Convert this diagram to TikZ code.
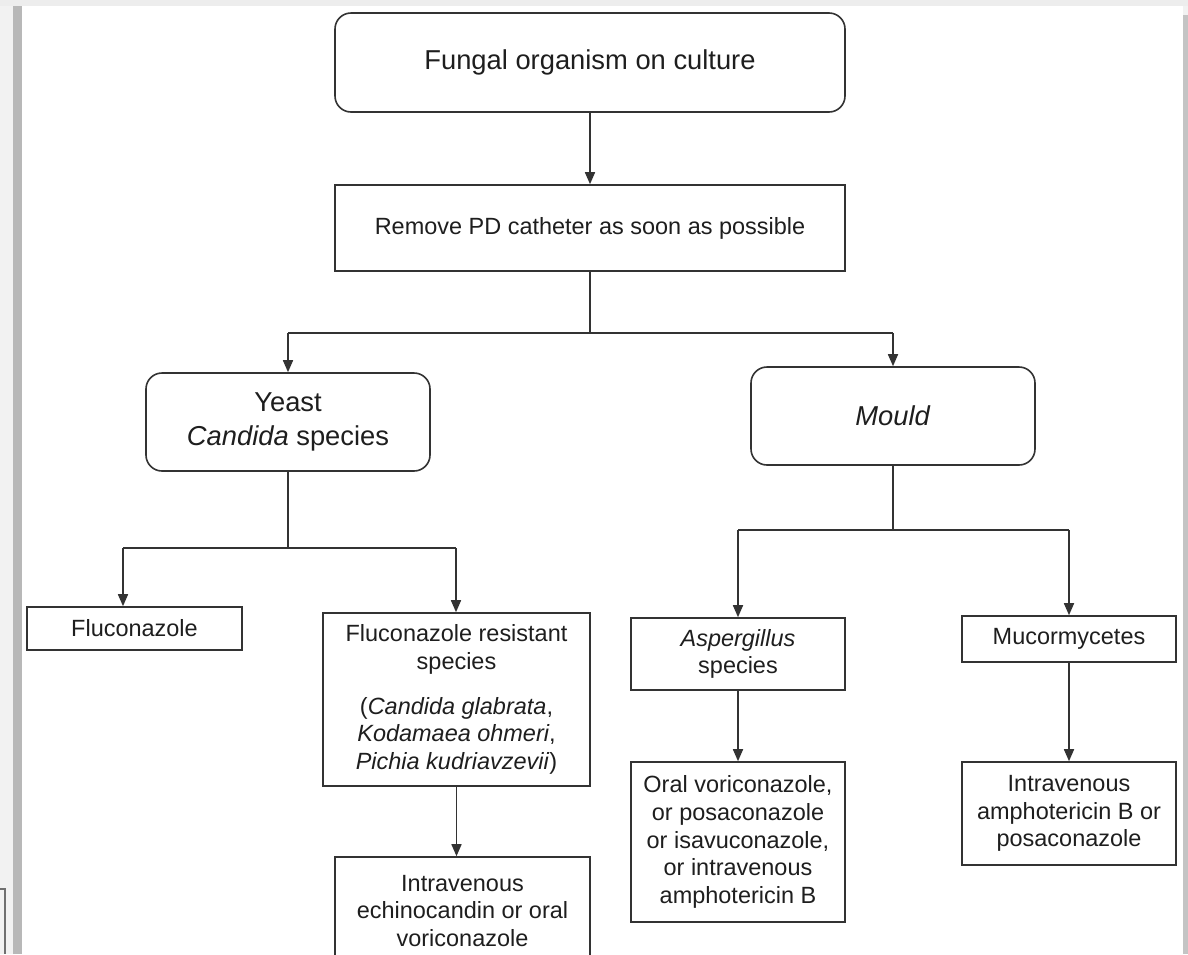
\documentclass[tikz,border=0pt]{standalone}
\usepackage{fontspec}
\setmainfont{Liberation Sans}
\usetikzlibrary{arrows.meta}
\definecolor{ink}{HTML}{1E1E1E}
\definecolor{edge}{HTML}{333333}
\definecolor{paneltop}{HTML}{EDEDED}
\definecolor{panelside}{HTML}{F2F2F2}
\definecolor{panelbar}{HTML}{B8B8B8}
\definecolor{panelright}{HTML}{C4C4C4}
\begin{document}
\begin{tikzpicture}[x=0.75pt,y=-0.75pt,
  box/.style={draw=edge, line width=1.2pt, rectangle, align=center, text=ink, inner sep=2pt},
  roundbox/.style={box, rounded corners=12pt},
  bigtext/.style={font=\fontsize{20.5}{26}\selectfont},
  smalltext/.style={font=\fontsize{17.6}{20.8}\selectfont},
  link/.style={draw=edge, line width=1.2pt},
  arr/.style={link, -{Triangle[length=9pt,width=7.5pt]}}]
\useasboundingbox (0,0) rectangle (1188,954);
\clip (0,0) rectangle (1188,954);

% page surround
\fill[panelside] (0,0) rectangle (1188,954);
\fill[white] (22,6) rectangle (1183,954);
\fill[paneltop] (0,0) rectangle (1188,6);
\fill[panelbar] (13,6) rectangle (22,954);
\fill[panelright] (1183,15) rectangle (1188,954);
\draw[edge!70, line width=0.8pt] (0,889) -- (5,889) -- (5,954);

% boxes
\node[roundbox, bigtext, minimum width=382.5pt, minimum height=74.25pt] (culture) at (590,62.5) {Fungal organism on culture};
\node[box, smalltext, minimum width=382.5pt, minimum height=64.5pt] (remove) at (590,228) {Remove PD catheter as soon as possible};
\node[roundbox, bigtext, minimum width=213pt, minimum height=73.5pt] (yeast) at (288,422) {Yeast\\\textit{Candida} species};
\node[roundbox, bigtext, minimum width=213pt, minimum height=73.5pt] (mould) at (893,416) {\textit{Mould}};

\node[box, smalltext, minimum width=161.25pt, minimum height=32.25pt] (fluc) at (134.5,628.5) {Fluconazole};
\node[box, smalltext, minimum width=200.25pt, minimum height=129.75pt] (resist) at (456.5,699.5)
  {Fluconazole resistant\\ species\\[13pt] (\textit{Candida glabrata},\\ \textit{Kodamaea ohmeri},\\ \textit{Pichia kudriavzevii})};
\node[box, smalltext, minimum width=191.25pt, minimum height=81pt] (echino) at (462.5,911)
  {Intravenous\\ echinocandin or oral\\ voriconazole};

\node[box, smalltext, minimum width=160.5pt, minimum height=54pt] (asp) at (738,654) {\textit{Aspergillus}\\ species};
\node[box, smalltext, minimum width=160.5pt, minimum height=120pt] (oral) at (738,842)
  {Oral voriconazole,\\ or posaconazole\\ or isavuconazole,\\ or intravenous\\ amphotericin B};
\node[box, smalltext, minimum width=160.5pt, minimum height=34.5pt] (muc) at (1069,639) {Mucormycetes};
\node[box, smalltext, minimum width=160.5pt, minimum height=77.25pt] (iv) at (1069,813.5)
  {Intravenous\\ amphotericin B or\\ posaconazole};

% connectors
\draw[arr] (culture.south) -- (remove.north);

\coordinate (mainL) at (288,333);
\coordinate (mainR) at (893,333);
\draw[link] (remove.south) -- (remove.south |- mainL);
\draw[link] (mainL) -- (mainR);
\draw[arr] (mainL) -- (yeast.north);
\draw[arr] (mainR) -- (mould.north);

\coordinate (yeastL) at (123,548);
\coordinate (yeastR) at (456,548);
\draw[link] (yeast.south) -- (yeast.south |- yeastL);
\draw[link] (yeastL) -- (yeastR);
\draw[arr] (yeastL) -- (yeastL |- fluc.north);
\draw[arr] (yeastR) -- (yeastR |- resist.north);
\draw[arr] (resist.south) -- (resist.south |- echino.north);

\coordinate (mouldL) at (738,530);
\coordinate (mouldR) at (1069,530);
\draw[link] (mould.south) -- (mould.south |- mouldL);
\draw[link] (mouldL) -- (mouldR);
\draw[arr] (mouldL) -- (asp.north);
\draw[arr] (mouldR) -- (muc.north);
\draw[arr] (asp.south) -- (oral.north);
\draw[arr] (muc.south) -- (iv.north);
\end{tikzpicture}
\end{document}
